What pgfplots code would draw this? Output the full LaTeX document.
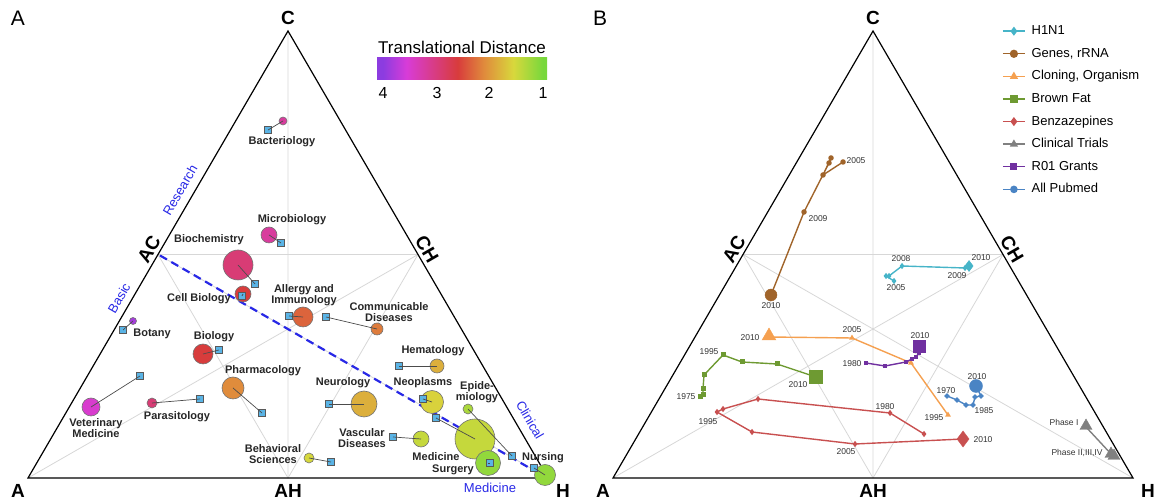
\documentclass[border=0pt]{standalone}
\usepackage{fontspec}
\setmainfont{Liberation Sans}
\usepackage{pgfplots}
\pgfplotsset{compat=1.18}
\usepackage{pgfplotstable}

\definecolor{tdA}{RGB}{140,60,224}
\definecolor{tdB}{RGB}{216,60,216}
\definecolor{tdC}{RGB}{216,60,60}
\definecolor{tdD}{RGB}{224,140,60}
\definecolor{tdE}{RGB}{216,216,60}
\definecolor{tdF}{RGB}{120,216,60}
\definecolor{gline}{RGB}{215,215,215}
\definecolor{sqblue}{RGB}{90,180,230}
\definecolor{lblue}{RGB}{40,40,230}
\definecolor{cH}{RGB}{70,180,200}
\definecolor{cG}{RGB}{160,100,42}
\definecolor{cC}{RGB}{245,160,80}
\definecolor{cB}{RGB}{110,154,50}
\definecolor{cZ}{RGB}{200,80,80}
\definecolor{cT}{RGB}{128,128,128}
\definecolor{cR}{RGB}{112,48,160}
\definecolor{cP}{RGB}{74,132,196}

\pgfdeclarehorizontalshading{tdist}{100bp}{color(0bp)=(tdA); color(26.8bp)=(tdA); color(33.7bp)=(tdB); color(48.7bp)=(tdC); color(56.6bp)=(tdD); color(65.1bp)=(tdE); color(73.8bp)=(tdF); color(100bp)=(tdF)}

\newcommand\lb{\fontsize{11}{11.5}\selectfont\bfseries}
\newcommand\vx{\fontsize{19}{20}\selectfont\bfseries}
\newcommand\yr{\fontsize{8.5}{9}\selectfont}
\newcommand\bl{\fontsize{13}{14}\selectfont}

% panel A: circle centre, radius, translational distance, square position
\pgfplotstableread{
cx cy r dist sx sy
283 121 4 3.2 268 130
269 235 8 3.2 281 243
238 265 15 2.95 255 284
243 294 8 2.6 242 296
133 321 3.5 3.85 123 330
203 354 10 2.6 219 350
303 317 10 2.35 289 316
377 329 6 2.2 326 317
233 388 11 2.1 262 413
91 407 9 3.5 140 376
152 403 5 2.95 200 399
437 366 7 1.85 399 366
364 404 13 1.85 329 404
432 402 11.5 1.6 423 399
468 409 5 1.3 512 456
421 439 8 1.45 393 437
475 439 20 1.45 436 418
488 463 12.5 1.15 490 463
309 458 5 1.55 331 462
545 475 10.5 1.15 534 468
}\fieldsA

\begin{document}
\begin{tikzpicture}
\begin{axis}[width=1158pt, height=502pt, scale only axis,
  xmin=0, xmax=1158, ymin=0, ymax=502, y dir=reverse,
  hide axis, clip=false, set layers,
  colormap={td}{rgb255(0pt)=(120,216,60) rgb255(56pt)=(216,216,60) rgb255(110pt)=(224,140,60) rgb255(160pt)=(216,60,60) rgb255(256pt)=(216,60,216) rgb255(300pt)=(140,60,224)},
  point meta min=1, point meta max=4,
  legend cell align=left,
  legend style={at={(axis cs:999,22)}, anchor=north west, draw=none, fill=none,
    font=\fontsize{13}{15}\selectfont, row sep=8.6pt, column sep=5pt,
    nodes={inner sep=1pt, text height=9.5pt, text depth=2.5pt}},
  legend image code/.code={\draw[mark repeat=2,mark phase=2,#1,/tikz/every mark/.append style={scale=1.7}] plot coordinates {(0pt,0pt) (11pt,0pt) (22pt,0pt)};},
]
% ---------- panel A frame
\draw[gline, line width=0.8pt] (158,254.5) -- (418,254.5) -- (288,478) -- cycle;
\draw[gline, line width=0.8pt] (28,478) -- (418,254.5) (548,478) -- (158,254.5) (288,31) -- (288,478);
\draw[black, line width=1.2pt] (28,478) -- (548,478) -- (288,31) -- cycle;
\draw[lblue, line width=2.2pt, dash pattern=on 8pt off 5pt] (160,255.5) -- (540,474);
% ---------- panel B frame
\draw[gline, line width=0.8pt] (743,254.5) -- (1003,254.5) -- (873,478) -- cycle;
\draw[gline, line width=0.8pt] (613,478) -- (1003,254.5) (1133,478) -- (743,254.5) (873,31) -- (873,478);
\draw[black, line width=1.2pt] (613,478) -- (1133,478) -- (873,31) -- cycle;

% ---------- panel A data
\addplot[scatter, only marks, mark=*, point meta=\thisrow{dist},
  scatter/use mapped color={draw=black!55, fill=mapped color},
  visualization depends on={\thisrow{r}\as\rad},
  scatter/@pre marker code/.append style={/tikz/mark size=\rad},
  mark options={line width=0.6pt}, forget plot]
  table[x=cx, y=cy] {\fieldsA};
\addplot[black!70, line width=0.7pt, no marks, forget plot, on layer=axis foreground,
  quiver={u=\thisrow{sx}-\thisrow{cx}, v=\thisrow{sy}-\thisrow{cy}}]
  table[x=cx, y=cy] {\fieldsA};
\addplot[only marks, mark=square*, mark size=3.5, forget plot, on layer=axis foreground,
  mark options={fill=sqblue, draw=black!65, line width=0.5pt}]
  table[x=sx, y=sy] {\fieldsA};

% ---------- panel B data
\addplot[cH, line width=1.4pt, mark=diamond*, mark size=2] coordinates {(894,281) (886,276) (889,276) (902,266) (965,268) (969,266)};
\addlegendentry{H1N1}
\addplot[cG, line width=1.4pt, mark=*, mark size=2] coordinates {(843,162) (823,175) (831,158) (829,163) (804,212) (771,295)};
\addlegendentry{Genes, rRNA}
\addplot[cC, line width=1.4pt, mark=triangle*, mark size=2] coordinates {(948,415) (911,363) (852,338) (769,337)};
\addlegendentry{Cloning, Organism}
\addplot[cB, line width=1.4pt, mark=square*, mark size=1.8] coordinates {(700,397) (703,395) (703,389) (704,375) (723,355) (742,362) (777,364) (816,377)};
\addlegendentry{Brown Fat}
\addplot[cZ, line width=1.4pt, mark=diamond*, mark size=2] coordinates {(924,434) (890,413) (758,399) (723,409) (717,412) (752,432) (855,444) (963,439)};
\addlegendentry{Benzazepines}
\addplot[cT, line width=1.4pt, mark=triangle*, mark size=2] coordinates {(1086,427) (1112,455)};
\addlegendentry{Clinical Trials}
\addplot[cR, line width=1.4pt, mark=square*, mark size=1.6] coordinates {(866,363) (885,366) (906,362) (912,359) (916,357) (919,353) (919,346)};
\addlegendentry{R01 Grants}
\addplot[cP, line width=1.4pt, mark=*, mark size=1.8] coordinates {(947,396) (957,400) (966,405) (973,405) (975,397) (981,396) (976,386)};
\addlegendentry{All Pubmed}
% end-point markers
\addplot[cH, only marks, mark=diamond*, mark size=5.5, forget plot] coordinates {(969,266)};
\addplot[cG, only marks, mark=*, mark size=6, forget plot] coordinates {(771,295)};
\addplot[cC, only marks, mark=triangle*, mark size=8, forget plot] coordinates {(769,336)};
\addplot[cB, only marks, mark=square*, mark size=6.5, forget plot] coordinates {(816,377)};
\addplot[cZ, only marks, mark=diamond*, mark size=8, forget plot] coordinates {(963,439)};
\addplot[cT, only marks, mark=triangle*, mark size=7, forget plot] coordinates {(1086,426) (1111,454) (1114,456)};
\addplot[cR, only marks, mark=square*, mark size=6, forget plot] coordinates {(919,346)};
\addplot[cP, only marks, mark=*, mark size=6.5, forget plot] coordinates {(976,386)};

% ---------- colour bar
\shade[shading=tdist] (377,58) rectangle (547,80);
\node[font=\fontsize{17}{18}\selectfont] at (462,47) {Translational Distance};
\node[font=\fontsize{16}{17}\selectfont] at (383,93) {4};
\node[font=\fontsize{16}{17}\selectfont] at (437,93) {3};
\node[font=\fontsize{16}{17}\selectfont] at (489,93) {2};
\node[font=\fontsize{16}{17}\selectfont] at (543,93) {1};

% ---------- panel labels and vertices
\node[font=\fontsize{21}{22}\selectfont] at (18,18) {A};
\node[font=\fontsize{21}{22}\selectfont] at (600,18) {B};
\node[font=\vx] at (288,18) {C};
\node[font=\vx] at (18,491) {A};
\node[font=\vx] at (288,491) {AH};
\node[font=\vx] at (563,491) {H};
\node[font=\vx, rotate=60] at (149,249) {AC};
\node[font=\vx, rotate=-60] at (427,249) {CH};
\node[font=\vx] at (873,18) {C};
\node[font=\vx] at (603,491) {A};
\node[font=\vx] at (873,491) {AH};
\node[font=\vx] at (1148,491) {H};
\node[font=\vx, rotate=60] at (734,249) {AC};
\node[font=\vx, rotate=-60] at (1012,249) {CH};

% ---------- blue axis notes
\node[font=\bl, text=lblue, rotate=60] at (180,190) {Research};
\node[font=\bl, text=lblue, rotate=60] at (119,298) {Basic};
\node[font=\bl, text=lblue, rotate=-60] at (530,420) {Clinical};
\node[font=\bl, text=lblue] at (490,488) {Medicine};

% ---------- panel A labels
\begin{scope}[every node/.style={font=\lb, text=black!85, align=center, inner sep=0pt}]
\node at (282,142) {Bacteriology};
\node at (292,220) {Microbiology};
\node at (209,240) {Biochemistry};
\node at (199,299) {Cell Biology};
\node at (152,334) {Botany};
\node at (214,337) {Biology};
\node at (304,295) {Allergy and\\Immunology};
\node at (389,312) {Communicable\\Diseases};
\node at (263,371) {Pharmacology};
\node at (96,428) {Veterinary\\Medicine};
\node at (177,417) {Parasitology};
\node at (433,351) {Hematology};
\node at (343,383) {Neurology};
\node at (423,383) {Neoplasms};
\node at (477,392) {Epide-\\miology};
\node at (362,438) {Vascular\\Diseases};
\node at (436,457) {Medicine};
\node at (453,470) {Surgery};
\node at (273,454) {Behavioral\\Sciences};
\node at (543,458) {Nursing};
\end{scope}

% ---------- panel B year labels
\begin{scope}[every node/.style={font=\yr, text=black!80, inner sep=0pt}]
\node at (856,161) {2005};
\node at (818,219) {2009};
\node at (771,306) {2010};
\node at (852,330) {2005};
\node at (750,338) {2010};
\node at (934,418) {1995};
\node at (709,352) {1995};
\node at (686,397) {1975};
\node at (798,385) {2010};
\node at (708,422) {1995};
\node at (846,452) {2005};
\node at (885,407) {1980};
\node at (983,440) {2010};
\node at (852,364) {1980};
\node at (920,336) {2010};
\node at (901,259) {2008};
\node at (981,258) {2010};
\node at (957,276) {2009};
\node at (896,288) {2005};
\node at (946,391) {1970};
\node at (977,377) {2010};
\node at (984,411) {1985};
\node at (1064,422) {Phase I};
\node at (1077,453) {Phase II,III,IV};
\end{scope}
\end{axis}
\pgfresetboundingbox
\path[use as bounding box] (current axis.south west) rectangle (current axis.north east);
\end{tikzpicture}
\end{document}
